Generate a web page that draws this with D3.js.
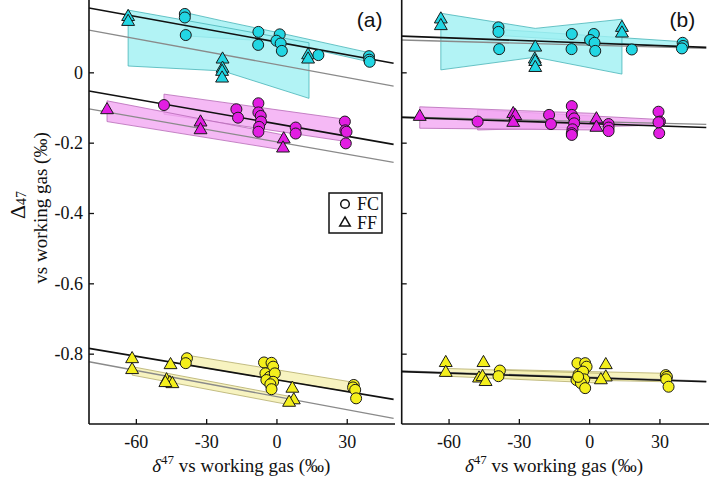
<!DOCTYPE html>
<html><head><meta charset="utf-8">
<script src="https://cdn.jsdelivr.net/npm/d3@7"></script>
<style>
html,body{margin:0;padding:0;background:#fff;}
svg{display:block;}
</style></head>
<body>
<svg id="chart" width="709" height="481"></svg>
<script>
// ---------- data ----------
const panelLabels = ["(a)", "(b)"];
const xTicks = [-60, -30, 0, 30];
const yTicks = [0, -0.2, -0.4, -0.6, -0.8];
const xDomain = [-80, 50];
const yDomain = [-1.0, 0.2];
const legendLabels = ["FC", "FF"];
const yTitle = "vs working gas (‰)";
const xTitleRest = " vs working gas (‰)";

// points [δ47, Δ47]
const a_cyanFC = [[-39.1,0.166],[-39.1,0.156],[-38.7,0.106],[-7.7,0.115],[-7.8,0.078],[1.4,0.108],[0,0.09],[1.8,0.082],[2.3,0.061],[17.9,0.049],[39.5,0.046],[39.6,0.036],[39.8,0.030]];
const a_cyanFF = [[-63.3,0.158],[-63.3,0.144],[-23.0,0.037],[-23.0,0.011],[-23.2,0.002],[-23.2,-0.017],[13.5,0.049],[13.5,0.037]];
const a_magFC = [[-48,-0.093],[-17.1,-0.105],[-16.4,-0.129],[-7.7,-0.088],[-7.7,-0.114],[-6.7,-0.124],[-6.6,-0.140],[-7.4,-0.155],[-7.7,-0.169],[8.2,-0.157],[8.2,-0.174],[29.2,-0.140],[29.4,-0.165],[29.9,-0.169],[29.6,-0.202]];
const a_magFF = [[-72.3,-0.107],[-32.4,-0.142],[-32.4,-0.164],[3.1,-0.190],[2.8,-0.216]];
const a_yelFC = [[-38.2,-0.813],[-38.7,-0.827],[-5.3,-0.825],[-2.1,-0.826],[-1.4,-0.837],[-4.7,-0.856],[-2.9,-0.866],[-0.7,-0.856],[-4.3,-0.875],[-1.4,-0.880],[-2.6,-0.887],[-2.1,-0.901],[33,-0.889],[32.7,-0.896],[33.6,-0.903],[34,-0.927]];
const a_yelFF = [[-61.6,-0.815],[-61.6,-0.846],[-45.2,-0.832],[-46.9,-0.875],[-45.5,-0.883],[-44.4,-0.886],[-47.4,-0.883],[6.8,-0.899],[7.4,-0.932],[5.4,-0.939]];

const b_cyanFC = [[-38.7,0.128],[-38.7,0.115],[-38.4,0.066],[-7.4,0.109],[-7.5,0.066],[2.0,0.109],[0.4,0.092],[2.3,0.084],[2.6,0.061],[18.2,0.065],[39.9,0.084],[40.1,0.075],[39.6,0.068]];
const b_cyanFF = [[-63.3,0.151],[-63.3,0.132],[-23,0.071],[-23.2,0.037],[-23,0.030],[-23,0.013],[14,0.127],[14,0.111]];
const b_magFC = [[-47.6,-0.140],[-17.1,-0.121],[-16.3,-0.147],[-7.4,-0.096],[-7.4,-0.121],[-6.4,-0.131],[-6.4,-0.145],[-7.1,-0.162],[-7.4,-0.173],[-7.4,-0.178],[8.3,-0.147],[8.3,-0.157],[8.3,-0.167],[29.6,-0.112],[30.2,-0.140],[29.9,-0.173],[29.6,-0.142]];
const b_magFF = [[-72.3,-0.126],[-32.4,-0.118],[-31.5,-0.124],[-32.4,-0.143],[3.1,-0.133],[3.1,-0.157]];
const b_yelFC = [[-38.1,-0.848],[-38.7,-0.864],[-5,-0.827],[-1.7,-0.827],[-1.1,-0.837],[-4.5,-0.859],[-2.6,-0.851],[-5.4,-0.875],[-2.1,-0.873],[-3.5,-0.884],[-1.7,-0.898],[-4.7,-0.866],[32.7,-0.861],[33.2,-0.866],[32.9,-0.873],[33.9,-0.894]];
const b_yelFF = [[-61.2,-0.826],[-61.2,-0.854],[-45.1,-0.826],[-47,-0.870],[-45.5,-0.866],[-44.2,-0.880],[7.1,-0.832],[7.1,-0.867],[5,-0.875]];

// bands [δ47, upper Δ47, lower Δ47]
const a_cyanFFband = [[-63.3,0.177,0.018],[-23,0.129,0.004],[13.9,0.084,-0.074]];
const a_cyanFCband = [[-39,0.170,0.104],[-23.5,0.147,0.097],[1.4,0.112,0.087],[39.5,0.056,0.030]];
const a_magFCband = [[-48,-0.062,-0.119],[30,-0.134,-0.197]];
const a_magFFband = [[-72.3,-0.081,-0.140],[3,-0.178,-0.221]];
const a_yelFCband = [[-38.5,-0.804,-0.832],[33.5,-0.882,-0.911]];
const a_yelFFband = [[-61.6,-0.837,-0.861],[6,-0.922,-0.946]];

const b_cyanFFband = [[-63.3,0.168,0.007],[-23,0.125,0.043],[14,0.151,-0.005]];
const b_cyanFCband = [[-38.5,0.122,0.105],[40,0.087,0.071]];
const b_magFFband = [[-72.3,-0.098,-0.159],[3.1,-0.117,-0.164]];
const b_magFCband = [[-47.6,-0.107,-0.164],[29.9,-0.134,-0.150]];
const b_yelFFband = [[-61.2,-0.842,-0.864],[6,-0.856,-0.884]];
const b_yelFCband = [[-38.4,-0.845,-0.870],[33.5,-0.856,-0.880]];

// fits [slope, intercept] per group (cyan, magenta, yellow)
const fitsBlackA = [[-0.001208,0.0864],[-0.001169,-0.1465],[-0.001115,-0.8742]];
const fitsGrayA  = [[-0.001223,0.0222],[-0.001169,-0.1975],[-0.001238,-0.922]];
const fitsBlackB = [[-0.000246,0.0833],[-0.000223,-0.1458],[-0.000223,-0.8688]];
const fitsGrayB  = [[-0.000185,0.0772],[-0.000162,-0.1399],[-0.000223,-0.867]];

// ---------- styles ----------
const SERIF = "'Liberation Serif', 'DejaVu Serif', serif";
const SANS = "'Liberation Sans', Arial, sans-serif";
const groupColors = ["#22d6e3", "#e21ee2", "#f4ef1c"];
const bandFill = ["#9ff0f2", "#f3a8f3", "#f5f0b0"];
const bandStroke = ["#46b4b8", "#b66ab6", "#b4ac6a"];

const svg = d3.select("#chart");
const y = d3.scaleLinear().domain(yDomain).range([424, 2]);

const panels = [
  { label: panelLabels[0], x: d3.scaleLinear().domain(xDomain).range([89, 393.6]), showY: true,
    bands: [[a_cyanFCband, a_cyanFFband], [a_magFCband, a_magFFband], [a_yelFCband, a_yelFFband]],
    fc: [a_cyanFC, a_magFC, a_yelFC], ff: [a_cyanFF, a_magFF, a_yelFF],
    black: fitsBlackA, gray: fitsGrayA, axisEnd: 395 },
  { label: panelLabels[1], x: d3.scaleLinear().domain(xDomain).range([401.7, 706.3]), showY: false,
    bands: [[b_cyanFCband, b_cyanFFband], [b_magFCband, b_magFFband], [b_yelFCband, b_yelFFband]],
    fc: [b_cyanFC, b_magFC, b_yelFC], ff: [b_cyanFF, b_magFF, b_yelFF],
    black: fitsBlackB, gray: fitsGrayB, axisEnd: 709 }
];

const tri = d3.symbol().type(d3.symbolTriangle).size(72);

panels.forEach((p, pi) => {
  const g = svg.append("g");
  const x = p.x;
  const area = d3.area().x(d => x(d[0])).y0(d => y(d[2])).y1(d => y(d[1]));

  p.bands.forEach((pair, gi) => {
    pair.forEach(b => {
      g.append("path").attr("d", area(b))
        .attr("fill", bandFill[gi]).attr("fill-opacity", 0.8)
        .attr("stroke", bandStroke[gi]).attr("stroke-width", 0.8);
    });
  });

  const line = d3.line().x(d => x(d[0])).y(d => y(d[1]));
  p.gray.forEach(f => {
    const pts = xDomain.map(v => [v, f[0] * v + f[1]]);
    g.append("path").attr("d", line(pts)).attr("fill", "none")
      .attr("stroke", "#8a8a8a").attr("stroke-width", 1.3);
  });
  p.black.forEach(f => {
    const pts = xDomain.map(v => [v, f[0] * v + f[1]]);
    g.append("path").attr("d", line(pts)).attr("fill", "none")
      .attr("stroke", "#111").attr("stroke-width", 1.6);
  });

  p.ff.forEach((arr, gi) => {
    g.selectAll(null).data(arr).enter().append("path")
      .attr("d", tri)
      .attr("transform", d => `translate(${x(d[0])},${y(d[1])})`)
      .attr("fill", groupColors[gi]).attr("stroke", "#1a1a1a").attr("stroke-width", 1);
  });
  p.fc.forEach((arr, gi) => {
    g.selectAll(null).data(arr).enter().append("circle")
      .attr("cx", d => x(d[0])).attr("cy", d => y(d[1])).attr("r", 5.5)
      .attr("fill", groupColors[gi]).attr("stroke", "#1a1a1a").attr("stroke-width", 1);
  });

  const yAxis = d3.axisLeft(y).tickValues(yTicks).tickSizeInner(-5).tickSizeOuter(0).tickPadding(6)
    .tickFormat(p.showY ? (d => d === 0 ? "0" : String(d)) : () => "");
  const ya = g.append("g").attr("transform", `translate(${x.range()[0]},0)`).call(yAxis);
  ya.select(".domain").remove();
  ya.selectAll("line").attr("stroke", "#111").attr("stroke-width", 1.3);
  ya.selectAll("text").attr("fill", "#111").style("font-size", "18px");

  const xAxis = d3.axisBottom(x).tickValues(xTicks).tickSizeInner(-5).tickSizeOuter(0).tickPadding(11)
    .tickFormat(d => String(d));
  const xa = g.append("g").attr("transform", "translate(0,424)").call(xAxis);
  xa.select(".domain").remove();
  xa.selectAll("line").attr("stroke", "#111").attr("stroke-width", 1.3);
  xa.selectAll("text").attr("fill", "#111").style("font-size", "18px");

  g.append("line").attr("x1", x.range()[0]).attr("x2", x.range()[0]).attr("y1", 0).attr("y2", 424)
    .attr("stroke", "#111").attr("stroke-width", 1.6);
  g.append("line").attr("x1", x.range()[0]).attr("x2", p.axisEnd).attr("y1", 424).attr("y2", 424)
    .attr("stroke", "#111").attr("stroke-width", 1.6);

  g.append("text").attr("class", "plabel").attr("x", x.range()[1] - 24).attr("y", 27).attr("text-anchor", "middle")
    .style("font-size", "21px").text(p.label);

  const xc = (x.range()[0] + x.range()[1]) / 2;
  const t = g.append("text").attr("x", xc).attr("y", 472).attr("text-anchor", "middle").style("font-size", "19px");
  t.append("tspan").style("font-style", "italic").text("δ");
  t.append("tspan").style("font-size", "13px").attr("dy", -8).text("47");
  t.append("tspan").attr("dy", 8).text(xTitleRest);
});

const yt = svg.append("g").attr("transform", "translate(25,205) rotate(-90)");
const d1 = yt.append("text").attr("text-anchor", "middle").style("font-size", "22px");
d1.append("tspan").text("Δ");
d1.append("tspan").style("font-size", "14px").attr("dy", 1).text("47");
svg.append("text").attr("transform", "translate(47,208) rotate(-90)")
  .attr("text-anchor", "middle").style("font-size", "19px").text(yTitle);

const lg = svg.append("g");
lg.append("rect").attr("x", 329).attr("y", 193).attr("width", 53).attr("height", 40)
  .attr("fill", "#fff").attr("stroke", "#111").attr("stroke-width", 1.5);
lg.append("circle").attr("cx", 345).attr("cy", 204).attr("r", 4.3)
  .attr("fill", "none").attr("stroke", "#111").attr("stroke-width", 1.5);
lg.append("path").attr("d", d3.symbol().type(d3.symbolTriangle).size(48)())
  .attr("transform", "translate(345,223)").attr("fill", "none").attr("stroke", "#111").attr("stroke-width", 1.5);
lg.selectAll(null).data(legendLabels).enter().append("text")
  .attr("x", 357).attr("y", (d, i) => 210 + i * 19).style("font-size", "18px").text(d => d);

// fonts
svg.selectAll("text").style("font-family", SERIF).attr("fill", "#111");
svg.selectAll("text.plabel").style("font-family", SANS);
</script>
</body></html>
